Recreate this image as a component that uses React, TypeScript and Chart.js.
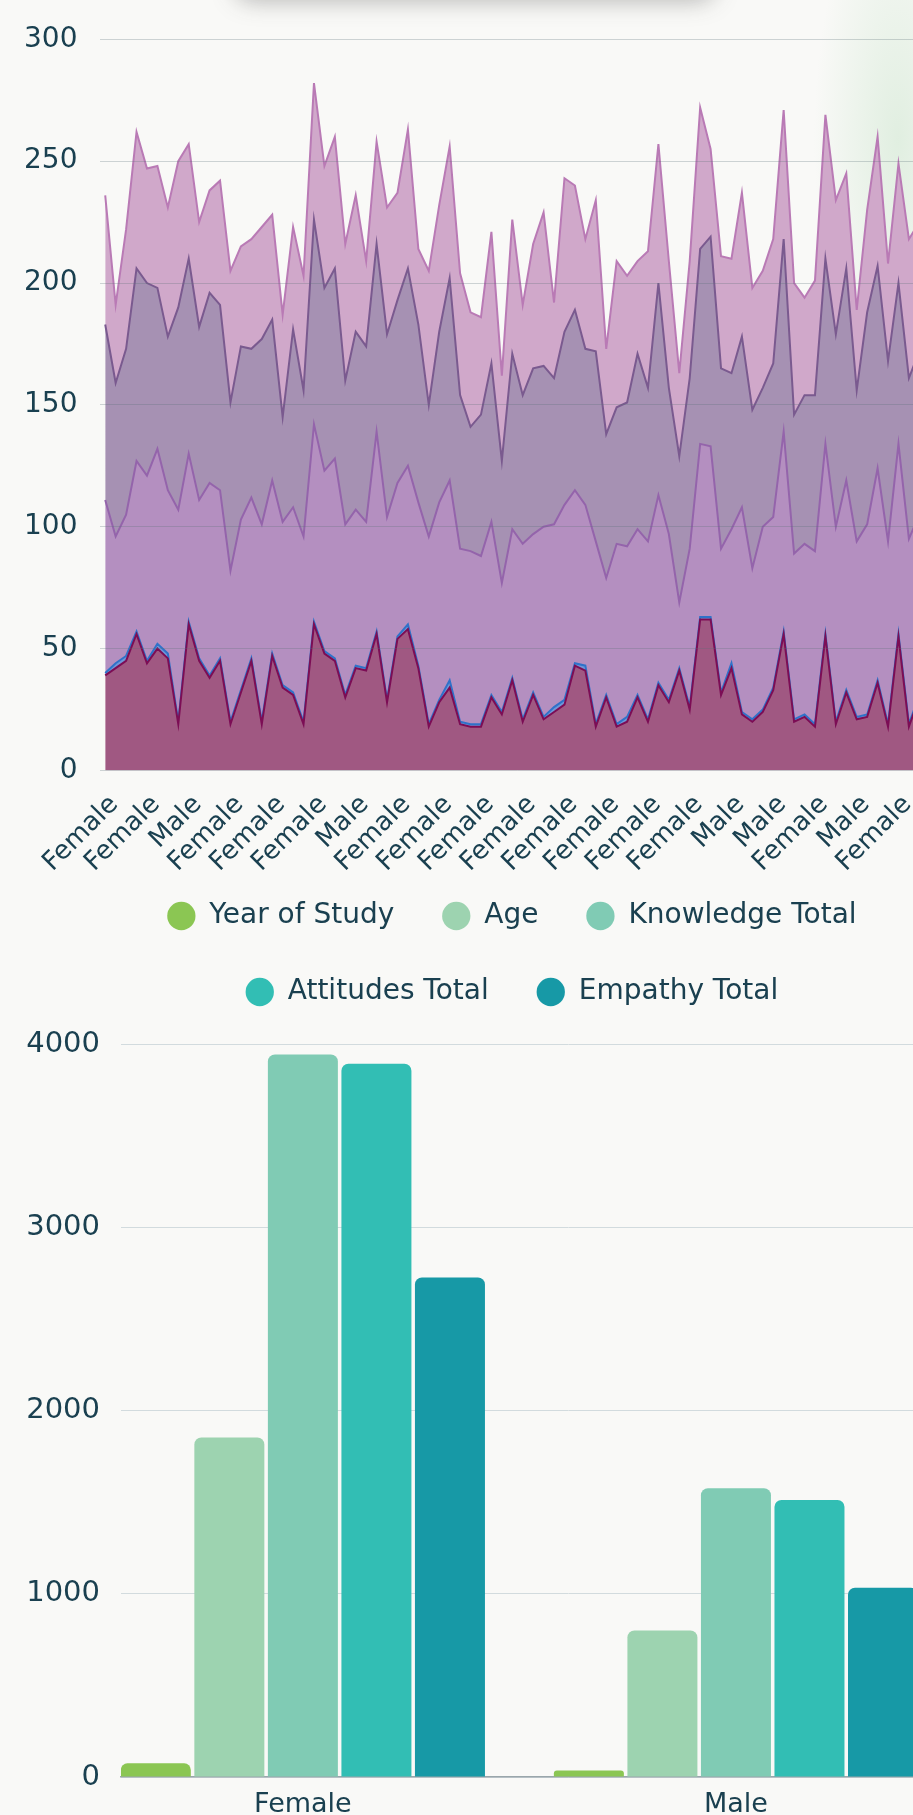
import React, { useEffect, useRef } from 'react';
import { Chart, registerables } from 'chart.js';

Chart.register(...registerables);

const FONT = '"DejaVu Sans", sans-serif';
const TEXT = '#1a4050';
const BG = '#f9f9f7';

// ---------- Top chart (stacked area, one point per student) ----------
const pointGenders = [
  'Female', 'Male', 'Female', 'Female', 'Female', 'Female', 'Male', 'Female', 'Male', 'Female',
  'Female', 'Female', 'Female', 'Male', 'Female', 'Female', 'Female', 'Female', 'Female', 'Male',
  'Female', 'Female', 'Male', 'Female', 'Male', 'Female', 'Female', 'Female', 'Female', 'Female',
  'Male', 'Female', 'Female', 'Female', 'Female', 'Male', 'Female', 'Male', 'Female', 'Female',
  'Female', 'Female', 'Female', 'Male', 'Female', 'Female', 'Male', 'Female', 'Female', 'Female',
  'Female', 'Female', 'Female', 'Male', 'Female', 'Female', 'Female', 'Female', 'Male', 'Female',
  'Male', 'Female', 'Female', 'Female', 'Male', 'Female', 'Female', 'Male', 'Female', 'Female',
  'Male', 'Female', 'Male', 'Female', 'Female', 'Female', 'Female', 'Male', 'Female', 'Female',
];

const ageValues = [
  39, 42, 45, 56, 44, 50, 46, 19, 60, 45,
  38, 45, 19, 32, 45, 19, 47, 34, 31, 19,
  60, 48, 45, 30, 42, 41, 56, 28, 54, 58,
  42, 18, 28, 34, 19, 18, 18, 30, 23, 37,
  20, 31, 21, 24, 27, 43, 41, 18, 30, 18,
  20, 30, 20, 35, 28, 41, 25, 62, 62, 31,
  42, 23, 20, 24, 33, 56, 20, 22, 18, 55,
  19, 32, 21, 22, 36, 18, 55, 18, 30, 40,
];

const yearValues = [
  1, 2, 2, 1, 1, 2, 2, 1, 1, 1,
  1, 1, 1, 1, 1, 1, 1, 1, 1, 1,
  1, 1, 1, 1, 1, 1, 1, 1, 1, 2,
  1, 1, 1, 3, 1, 1, 1, 1, 1, 1,
  1, 1, 1, 2, 2, 1, 2, 1, 1, 1,
  2, 1, 1, 1, 1, 1, 1, 1, 1, 1,
  2, 1, 1, 1, 1, 1, 1, 1, 1, 1,
  1, 1, 1, 1, 1, 1, 1, 1, 1, 1,
];

const knowledgeValues = [
  71, 52, 58, 70, 76, 80, 67, 87, 69, 65,
  79, 69, 62, 70, 66, 81, 71, 67, 76, 76,
  81, 74, 82, 70, 64, 60, 82, 75, 63, 65,
  67, 77, 81, 82, 71, 71, 69, 71, 53, 61,
  72, 65, 78, 75, 80, 71, 66, 75, 48, 74,
  70, 68, 73, 77, 68, 27, 65, 71, 70, 59,
  55, 84, 62, 75, 70, 82, 68, 70, 71, 78,
  80, 86, 72, 78, 87, 75, 78, 76, 74, 71,
];

const attitudesValues = [
  72, 63, 68, 79, 79, 66, 63, 83, 80, 71,
  78, 76, 69, 71, 61, 76, 66, 43, 73, 60,
  84, 75, 78, 59, 73, 72, 77, 75, 75, 81,
  73, 54, 70, 83, 63, 51, 58, 65, 50, 72,
  61, 68, 66, 60, 71, 74, 64, 78, 59, 56,
  59, 72, 63, 87, 60, 60, 70, 80, 86, 74,
  64, 70, 65, 57, 63, 79, 57, 61, 64, 76,
  79, 87, 62, 87, 83, 74, 66, 66, 67, 68,
];

const empathyValues = [
  53, 32, 49, 56, 47, 50, 53, 60, 47, 43,
  42, 51, 54, 41, 45, 46, 43, 42, 42, 47,
  56, 50, 54, 56, 56, 35, 42, 52, 44, 57,
  31, 55, 52, 54, 50, 47, 40, 54, 35, 55,
  37, 51, 63, 31, 63, 51, 45, 62, 35, 60,
  52, 38, 56, 57, 52, 34, 48, 58, 36, 46,
  47, 59, 50, 48, 51, 53, 54, 40, 47, 59,
  55, 39, 33, 42, 53, 40, 49, 57, 53, 60,
];

const areaTicks = [0, 50, 100, 150, 200, 250, 300];

// ---------- Bottom chart (totals by gender) ----------
const barCategories = ['Female', 'Male'];
const barYear = [75, 36];
const barAge = [1854, 800];
const barKnowledge = [3945, 1577];
const barAttitudes = [3895, 1513];
const barEmpathy = [2728, 1034];
const barTicks = [0, 1000, 2000, 3000, 4000];

const LEGEND_GAP = 28.5;

const legendGap = {
  id: 'legendGap',
  beforeInit(chart: any) {
    const legend = chart.legend;
    if (!legend) return;
    const origFit = legend.fit;
    legend.fit = function () {
      origFit.call(this);
      this.height += LEGEND_GAP;
    };
  },
};

export default function App() {
  const areaRef = useRef<HTMLCanvasElement | null>(null);
  const barRef = useRef<HTMLCanvasElement | null>(null);

  useEffect(() => {
    Chart.defaults.font.family = FONT;
    const lineBase = { borderWidth: 2, pointRadius: 0, pointHoverRadius: 0, tension: 0 };

    const area = new Chart(areaRef.current as HTMLCanvasElement, {
      type: 'line',
      data: {
        labels: pointGenders,
        datasets: [
          { ...lineBase, label: 'Age', data: ageValues, fill: 'origin', backgroundColor: '#a05882', borderColor: '#7c0d55' },
          { ...lineBase, label: 'Year of Study', data: yearValues, fill: '-1', backgroundColor: '#6f97d8', borderColor: '#2f72c9' },
          { ...lineBase, label: 'Knowledge Total', data: knowledgeValues, fill: '-1', backgroundColor: '#b48fc0', borderColor: '#9464ab' },
          { ...lineBase, label: 'Attitudes Total', data: attitudesValues, fill: '-1', backgroundColor: '#a691b3', borderColor: '#7a5a8f' },
          { ...lineBase, label: 'Empathy Total', data: empathyValues, fill: '-1', backgroundColor: '#d0a8ca', borderColor: '#b97ab5' },
        ],
      },
      options: {
        animation: false,
        responsive: false,
        layout: { padding: { top: 37, right: 81, bottom: 9.5, left: 0 } },
        plugins: { legend: { display: false }, tooltip: { enabled: false } },
        scales: {
          x: {
            offset: true,
            grid: { display: false },
            border: { display: false },
            ticks: {
              autoSkip: false,
              minRotation: 45,
              maxRotation: 45,
              padding: 11,
              labelOffset: 9,
              color: TEXT,
              font: { family: FONT, size: 26 },
              callback: (_v: any, i: number) => (i % 4 === 0 ? pointGenders[i] : ''),
            },
            afterFit: (s: any) => { s.height = 100; },
          },
          y: {
            stacked: true,
            min: areaTicks[0],
            max: areaTicks[areaTicks.length - 1],
            ticks: { stepSize: 50, padding: 22.5, color: TEXT, font: { family: FONT, size: 28 } },
            grid: { color: 'rgba(90,110,120,0.28)', z: 1, drawTicks: false },
            border: { display: false },
            afterFit: (s: any) => { s.width = 92; },
          },
        },
      },
    } as any);

    const toXY = (arr: number[]) => arr.map((y, i) => ({ x: i, y }));
    const bar = new Chart(barRef.current as HTMLCanvasElement, {
      type: 'bar',
      data: {
        datasets: [
          { label: 'Year of Study', data: toXY(barYear), backgroundColor: '#8bc653' },
          { label: 'Age', data: toXY(barAge), backgroundColor: '#9dd3b0' },
          { label: 'Knowledge Total', data: toXY(barKnowledge), backgroundColor: '#80cbb4' },
          { label: 'Attitudes Total', data: toXY(barAttitudes), backgroundColor: '#32beb4' },
          { label: 'Empathy Total', data: toXY(barEmpathy), backgroundColor: '#1799a6' },
        ],
      },
      options: {
        animation: false,
        responsive: false,
        layout: { padding: { top: 0, right: 0, bottom: 17, left: 0 } },
        datasets: {
          bar: { categoryPercentage: 0.849, barPercentage: 0.952, borderRadius: 7, borderSkipped: 'start' },
        },
        plugins: {
          tooltip: { enabled: false },
          legend: {
            position: 'top',
            labels: {
              usePointStyle: true,
              pointStyle: 'circle',
              boxWidth: 28,
              boxHeight: 20,
              padding: 48,
              color: TEXT,
              font: { family: FONT, size: 28 },
            },
          },
        },
        scales: {
          x: {
            type: 'linear',
            offset: false,
            min: -0.42,
            max: 1.6467,
            grid: { display: false, offset: false },
            border: { display: true, color: '#9aa6ab', width: 1.5 },
            ticks: {
              stepSize: 1,
              includeBounds: false,
              padding: 4,
              color: TEXT,
              font: { family: FONT, size: 27 },
              callback: (v: any) => (barCategories[v as number] ?? ''),
            },
            afterFit: (s: any) => { s.height = 60; },
          },
          y: {
            min: barTicks[0],
            max: barTicks[barTicks.length - 1],
            ticks: {
              stepSize: 1000,
              padding: 21,
              color: TEXT,
              font: { family: FONT, size: 29 },
              callback: (v: any) => String(v),
            },
            grid: { color: '#d2dbde', drawTicks: false },
            border: { display: false },
            afterFit: (s: any) => { s.width = 113; },
          },
        },
      },
      plugins: [legendGap],
    } as any);

    return () => {
      area.destroy();
      bar.destroy();
    };
  }, []);

  return (
    <div style={{ position: 'relative', width: 913, height: 1815, overflow: 'hidden', background: BG }}>
      <style>{`html,body{margin:0;padding:0;overflow:hidden;background:${BG};}`}</style>
      <div
        style={{
          position: 'absolute', right: -70, top: -120, width: 170, height: 520,
          background: 'radial-gradient(ellipse at center, rgba(200,228,202,0.5), rgba(200,228,202,0) 70%)',
        }}
      />
      <div
        style={{
          position: 'absolute', left: 235, top: -34, width: 480, height: 34, borderRadius: 17,
          background: 'rgba(40,40,40,0.35)', filter: 'blur(12px)',
        }}
      />
      <canvas ref={areaRef} width={1008} height={880} style={{ position: 'absolute', left: 8, top: 0, width: 1008, height: 880 }} />
      <canvas ref={barRef} width={1008} height={1000} style={{ position: 'absolute', left: 8, top: 853.5, width: 1008, height: 1000 }} />
    </div>
  );
}
